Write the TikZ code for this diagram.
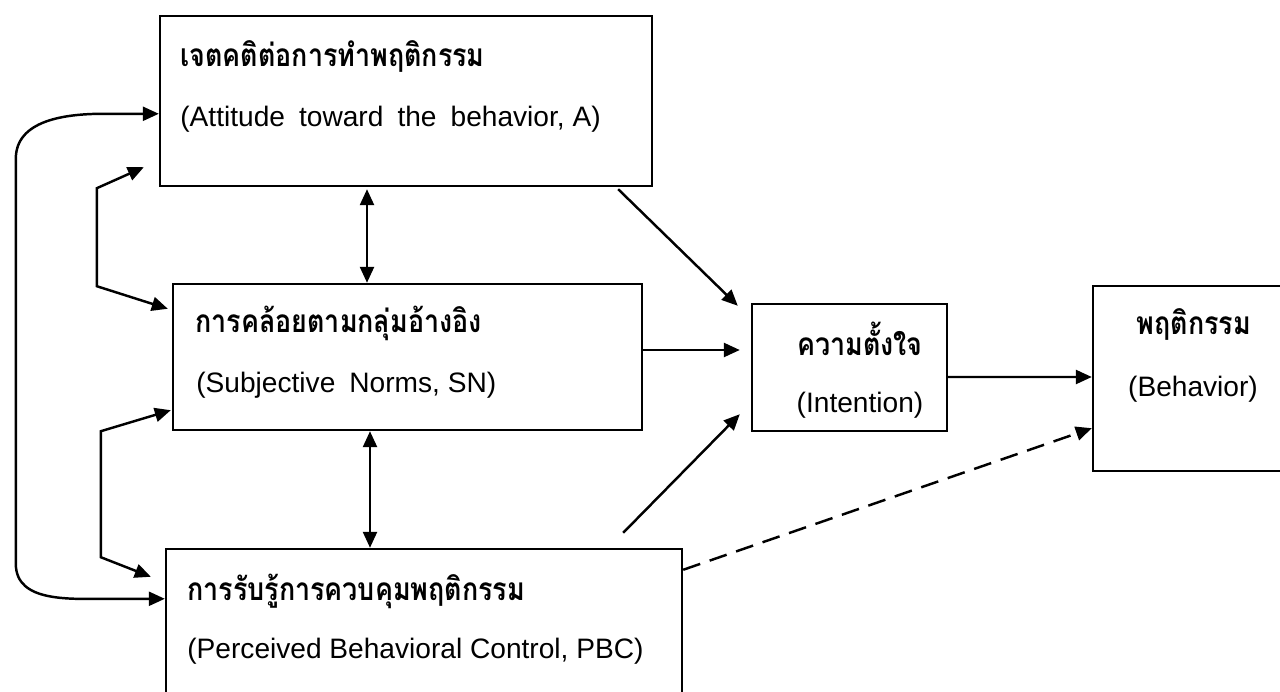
\documentclass[tikz,border=0pt]{standalone}
\usepackage{fontspec}
\setmainfont{Liberation Sans}
\newfontfamily\thaifont[Script=Thai, FakeStretch=0.85]{Loma}
\usetikzlibrary{arrows.meta,positioning,calc}

\begin{document}
\begin{tikzpicture}[x=0.02cm, y=-0.02cm,
    box/.style={draw, line width=1.4pt, inner sep=0pt},
    thtext/.style={font=\thaifont\bfseries\fontsize{18}{20}\selectfont, inner sep=0pt},
    entext/.style={font=\fontsize{16}{18}\selectfont, inner sep=0pt},
    oneway/.style={line width=1.4pt, -{Triangle[length=0.32cm,width=0.28cm]}},
    twoway/.style={line width=1.4pt, {Triangle[length=0.32cm,width=0.28cm]}-{Triangle[length=0.32cm,width=0.28cm]}}]
    \useasboundingbox (0,0) rectangle (1280,692);

    % Boxes
    \node[box, minimum width=9.84cm, minimum height=3.4cm] (A) at (406,101) {};
    \node[box, minimum width=9.38cm, minimum height=2.92cm] (SN) at (407.5,357) {};
    \node[box, minimum width=10.32cm, minimum height=3.02cm] (PBC) at (424,624.5) {};
    \node[box, minimum width=3.9cm, minimum height=2.54cm] (Int) at (849.5,367.5) {};
    \node[box, minimum width=4cm, minimum height=3.7cm] (Beh) at (1193,378.5) {};

    % Labels
    \node[thtext, anchor=base west] (aTh) at (180,67) {เจตคติต่อการทำพฤติกรรม};
    \node[entext, anchor=base west] (aEn) at (180,127) {(Attitude\enspace toward\enspace the\enspace behavior, A)};
    \node[thtext, anchor=base west] (snTh) at (195,333) {การคล้อยตามกลุ่มอ้างอิง};
    \node[entext, anchor=base west] (snEn) at (196,392) {(Subjective\enspace Norms, SN)};
    \node[thtext, anchor=base west] (pbcTh) at (187,600) {การรับรู้การควบคุมพฤติกรรม};
    \node[entext, anchor=base west] (pbcEn) at (187,658) {(Perceived Behavioral Control, PBC)};
    \node[thtext, anchor=base] (intTh) at (860,355) {ความตั้งใจ};
    \node[entext, anchor=base] (intEn) at (860,412) {(Intention)};
    \node[thtext, anchor=base] (behTh) at (1194,335) {พฤติกรรม};
    \node[entext, anchor=base] (behEn) at (1193,396) {(Behavior)};

    % Links between the three factors
    \draw[twoway] ($(A.south)+(-39,2)$) -- ($(SN.north)+(-40.5,0)$);
    \draw[twoway] ($(SN.south)+(-37.5,0)$) -- ($(PBC.north)+(-54,0)$);
    \draw[twoway] ($(A.south west)+(-15,-20)$) -- ++(-47,21) -- ++(0,98)
        -- ($(SN.north west)+(-4,26)$);
    \draw[twoway] ($(SN.south west)+(-1,-21)$) -- ++(-70,21) -- ++(0,126)
        -- ($(PBC.north west)+(-14,29)$);
    \draw[twoway] ($(A.north west)+(0,99)$) -- ++(-55,0) to[out=180,in=90] ++(-88,45)
        -- ++(0,405) to[out=-90,in=180] ++(95,35) -- ($(PBC.north west)+(0,51)$);

    % Paths to intention and behavior
    \draw[oneway] ($(A.south east)+(-35,2)$) -- ($(Int.north west)+(-13,3)$);
    \draw[oneway] ($(SN.east)+(0,-7)$) -- ($(Int.west)+(-11,-17.5)$);
    \draw[oneway] ($(PBC.north east)+(-60,-15)$) -- ($(Int.south west)+(-11,-18)$);
    \draw[oneway] ($(Int.east)+(0,9.5)$) -- ($(Beh.west)+(0,-1.5)$);
    \draw[oneway, dash pattern=on 0.36cm off 0.2cm] ($(PBC.north east)+(0,22)$) -- ($(Beh.south west)+(0,-44)$);
\end{tikzpicture}
\end{document}
